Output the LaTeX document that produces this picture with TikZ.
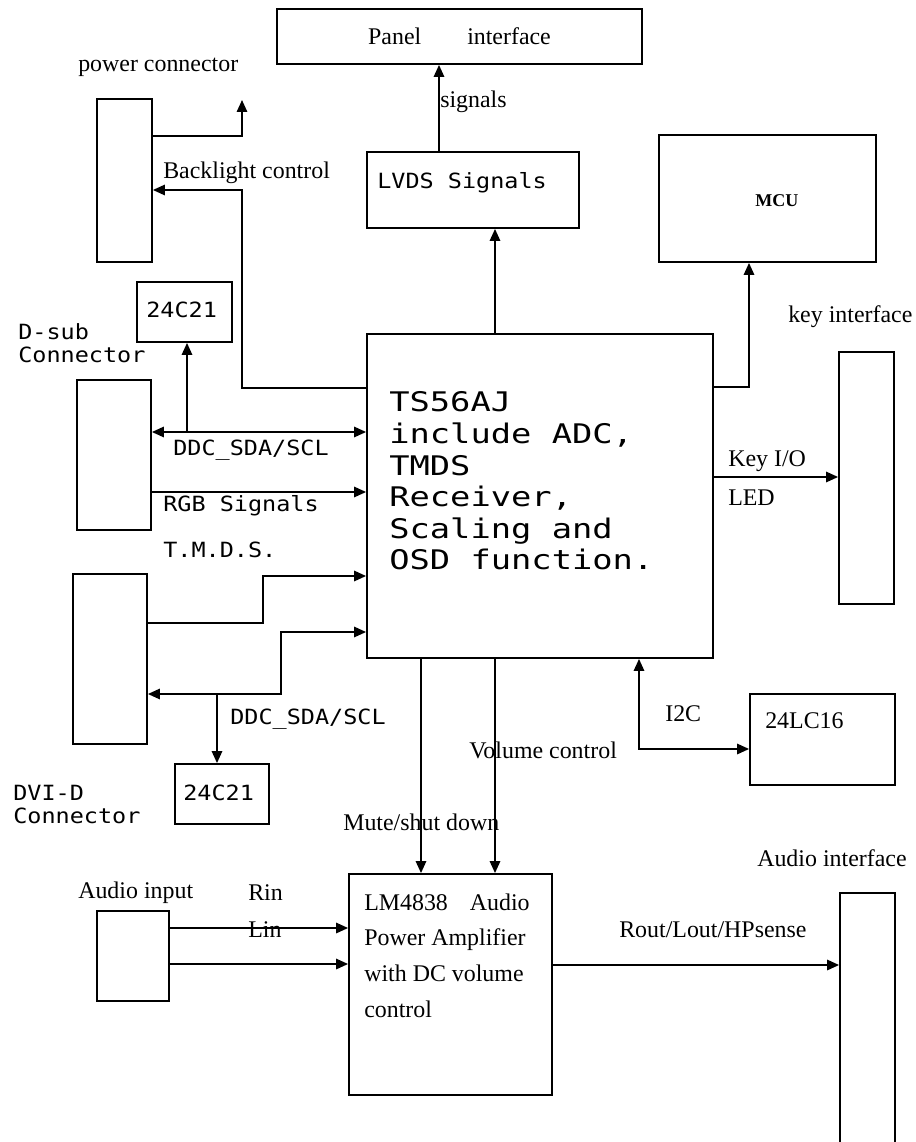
\documentclass[tikz,border=0pt]{standalone}
\usepackage{fontspec}
\setmainfont{Liberation Serif}
\newfontfamily\lblmono[FakeStretch=1.12]{DejaVu Sans Mono}
\newfontfamily\chipmono[FakeStretch=1.25]{DejaVu Sans Mono}
\usetikzlibrary{arrows.meta}

\begin{document}
\begin{tikzpicture}[x=0.25mm,y=-0.25mm,
  font=\fontsize{17}{25.3}\selectfont,
  box/.style={draw,line width=1.3pt,inner sep=0pt},
  txt/.style={anchor=west,inner sep=0pt,align=left},
  mono/.style={txt,font=\lblmono\fontsize{14.9}{16.4}\selectfont},
  lnk/.style={-{Triangle[length=3mm,width=2.6mm]},line width=1.3pt},
  lnk2/.style={{Triangle[length=3mm,width=2.6mm]}-{Triangle[length=3mm,width=2.6mm]},line width=1.3pt}
]
\useasboundingbox (0,0) rectangle (915,1142);

% top row
\node[box,minimum width=91.25mm,minimum height=13.75mm] (panel) at (459.5,36.5) {Panel\hspace{11.5mm}interface};
\node[box,minimum width=13.75mm,minimum height=40.75mm] (power) at (124.5,180.5) {};
\node[txt] (powerlbl) at (78,67) {power connector};
\node[box,minimum width=53mm,minimum height=19mm] (lvds) at (473,190) {};
\node[mono] (lvdstxt) at (377,183) {LVDS Signals};
\node[box,minimum width=54.25mm,minimum height=31.75mm] (mcu) at (767.5,198.5) {};
\node[txt,font=\bfseries\fontsize{12.8}{14}\selectfont] (mcutxt) at (755,201) {MCU};
\coordinate (pwrtip) at (242,100);

% scaler
\node[box,minimum width=86.5mm,minimum height=81mm] (ts) at (540,496) {};
\node[txt,font=\chipmono\fontsize{19.2}{22.5}\selectfont] (tstxt) at (389,481)
  {TS56AJ\\include ADC,\\TMDS\\Receiver,\\Scaling and\\OSD function.};

% key interface
\node[txt] (keylbl) at (788,317) {key interface};
\node[box,minimum width=13.75mm,minimum height=63mm] (keyb) at (866.5,478) {};
\node[txt] (keyio) at (728,461) {Key I/O};
\node[txt] (led) at (728,498) {LED};

% D-sub side
\node[mono] (dsublbl) at (18,343.5) {D-sub\\Connector};
\node[box,minimum width=23.75mm,minimum height=15mm] (eepa) at (184.5,312) {};
\node[mono] (eepatxt) at (146,310) {24C21};
\node[box,minimum width=18.5mm,minimum height=37.5mm] (dsub) at (114,455) {};
\node[mono] (ddca) at (173,450) {DDC\_SDA/SCL};
\node[mono] (rgb) at (163,506) {RGB Signals};
\node[mono] (tmds) at (163,550) {T.M.D.S.};

% DVI side
\node[box,minimum width=18.5mm,minimum height=42.5mm] (dvi) at (110,659) {};
\node[mono] (ddcb) at (230,719) {DDC\_SDA/SCL};
\node[box,minimum width=23.5mm,minimum height=15mm] (eepb) at (222,794) {};
\node[mono] (eepbtxt) at (183,793) {24C21};
\node[mono] (dvilbl) at (13,804.5) {DVI-D\\Connector};

% eeprom
\node[txt] (i2c) at (665,714) {I2C};
\node[box,minimum width=36.25mm,minimum height=22.75mm] (eepc) at (822.5,739.5) {};
\node[txt] (eepctxt) at (765,721) {24LC16};

% audio
\node[txt] (vol) at (469,750) {Volume control};
\node[txt] (mute) at (343,822) {Mute/shut down};
\node[box,minimum width=50.75mm,minimum height=55.25mm] (lm) at (450.5,984.5) {};
\node[txt] (lmtxt) at (364,955.5)
  {LM4838\hspace{5.5mm}Audio\\Power Amplifier\\with DC volume\\control};
\node[txt] (ainlbl) at (78,893) {Audio input};
\node[box,minimum width=18mm,minimum height=22.5mm] (ain) at (133,956) {};
\node[txt] (rin) at (248,893) {Rin};
\node[txt] (lin) at (248,930) {Lin};
\node[txt] (rout) at (619,930) {Rout/Lout/HPsense};
\node[txt] (audlbl) at (757,858) {Audio interface};
\node[box,minimum width=13.75mm,minimum height=66.75mm] (aud) at (867.5,1026.5) {};

% connections
\draw[lnk] (power.east |- 0,136) -| (pwrtip);
\draw[lnk] (ts.west |- 0,388) -| (242,190) -- (power.east |- 0,190);
\node[txt] (backlbl) at (163,173) {Backlight control};
\draw[lnk] (lvds.north -| 439,0) -- (panel.south -| 439,0);
\node[txt] (siglbl) at (440,102) {signals};
\draw[lnk] (ts.north -| 495,0) -- (lvds.south -| 495,0);
\draw[lnk] (ts.east |- 0,387) -| (mcu.south -| 749,0);
\draw[lnk] (ts.east |- 0,477) -- (keyb.west |- 0,477);

\draw[lnk2] (dsub.east |- 0,432) -- (ts.west |- 0,432);
\draw[lnk] (187,432) -- (eepa.south -| 187,0);
\draw[lnk] (dsub.east |- 0,492) -- (ts.west |- 0,492);
\draw[lnk] (dvi.east |- 0,623) -| (263,576) -- (ts.west |- 0,576);
\draw[lnk2] (dvi.east |- 0,694) -| (281,632) -- (ts.west |- 0,632);
\draw[lnk] (217,694) -- (eepb.north -| 217,0);

\draw[lnk2] (ts.south -| 639,0) |- (eepc.west |- 0,749);
\draw[lnk] (ts.south -| 421,0) -- (lm.north -| 421,0);
\draw[lnk] (ts.south -| 495,0) -- (lm.north -| 495,0);
\draw[lnk] (ain.east |- 0,928) -- (lm.west |- 0,928);
\draw[lnk] (ain.east |- 0,964) -- (lm.west |- 0,964);
\draw[lnk] (lm.east |- 0,965) -- (aud.west |- 0,965);
\end{tikzpicture}
\end{document}
